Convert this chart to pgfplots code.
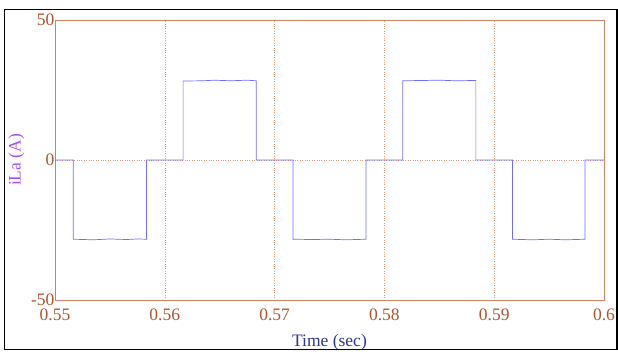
\documentclass[border=0pt]{standalone}
\usepackage{pgfplots}
\pgfplotsset{compat=1.18}
\usepackage{fontspec}
\setmainfont{Liberation Serif}
\definecolor{axbrown}{RGB}{210,130,100}
\definecolor{gridc}{RGB}{225,150,120}
\definecolor{lblbrown}{RGB}{175,85,45}
\definecolor{wave}{RGB}{110,110,250}
\definecolor{ylab}{RGB}{160,80,240}
\definecolor{xlab}{RGB}{45,55,150}
\begin{document}
\begin{tikzpicture}[x=1pt,y=1pt]
\useasboundingbox (0,0) rectangle (618,351);
\draw[black,line width=1.2pt] (4.5,1.2) rectangle (617,341.5);
\begin{axis}[
  at={(55pt,51pt)}, anchor=south west,
  scale only axis, width=549pt, height=280pt,
  xmin=0.55, xmax=0.6, ymin=-50, ymax=50,
  xtick={0.55,0.56,0.57,0.58,0.59,0.6},
  xticklabels={0.55,0.56,0.57,0.58,0.59,0.6},
  ytick={-50,0,50},
  yticklabels={-50,0,50},
  major tick length=0pt,
  axis line style={axbrown, line width=0.6pt},
  grid=major,
  major grid style={gridc, dotted, line width=0.6pt},
  tick label style={font=\fontsize{17.5}{17.5}\selectfont, text=lblbrown},
  xticklabel style={yshift=-5pt},
  yticklabel style={xshift=3pt},
  xlabel={Time (sec)},
  ylabel={iLa (A)},
  xlabel style={font=\fontsize{17.5}{17.5}\selectfont, text=xlab, at={(0.5,0)}, anchor=north, yshift=-31pt},
  ylabel style={font=\fontsize{17.5}{17.5}\selectfont, text=ylab, at={(0,0.5)}, anchor=south, yshift=27pt},
]
\addplot[wave, line width=0.7pt] coordinates {
(0.55,0) (0.55167,0) (0.55167,-28.3) (0.5535,-28.5) (0.5550,-28.2) (0.5565,-28.4) (0.5575,-28.2) (0.55833,-28.3) (0.55833,0)
(0.56167,0) (0.56167,28.2) (0.5635,28.3) (0.5645,28.5) (0.5660,28.3) (0.5675,28.5) (0.56833,28.3) (0.56833,0)
(0.57167,0) (0.57167,-28.3) (0.5735,-28.4) (0.5750,-28.3) (0.5765,-28.5) (0.57833,-28.3) (0.57833,0)
(0.58167,0) (0.58167,28.3) (0.5835,28.4) (0.5850,28.5) (0.5865,28.3) (0.58833,28.4) (0.58833,0)
(0.59167,0) (0.59167,-28.3) (0.5935,-28.5) (0.5950,-28.3) (0.5965,-28.5) (0.59827,-28.3) (0.59827,0)
(0.6,0)
};
\end{axis}
\end{tikzpicture}
\end{document}
